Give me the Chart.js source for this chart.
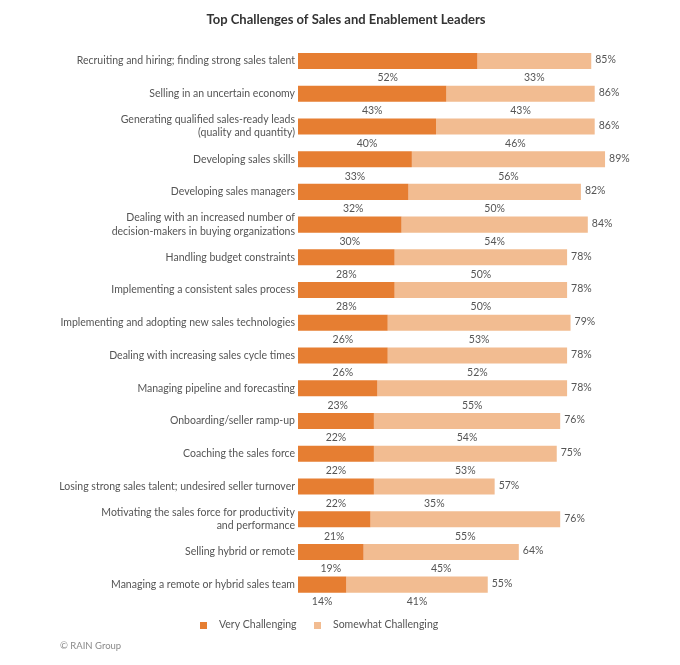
<!DOCTYPE html>
<html>
<head>
<meta charset="utf-8">
<title>Top Challenges of Sales and Enablement Leaders</title>
<script src="https://cdn.jsdelivr.net/npm/chart.js@4.4.1/dist/chart.umd.min.js"></script>
<style>
    html, body { margin: 0; padding: 0; background: #fff; }
    #wrap { width: 680px; height: 665px; position: relative; }
</style>
</head>
<body>
<div id="wrap"><canvas id="barChart"></canvas></div>
<script>
var categories = [
    'Recruiting and hiring; finding strong sales talent',
    'Selling in an uncertain economy',
    ['Generating qualified sales-ready leads', '(quality and quantity)'],
    'Developing sales skills',
    'Developing sales managers',
    ['Dealing with an increased number of', 'decision-makers in buying organizations'],
    'Handling budget constraints',
    'Implementing a consistent sales process',
    'Implementing and adopting new sales technologies',
    'Dealing with increasing sales cycle times',
    'Managing pipeline and forecasting',
    'Onboarding/seller ramp-up',
    'Coaching the sales force',
    'Losing strong sales talent; undesired seller turnover',
    ['Motivating the sales force for productivity', 'and performance'],
    'Selling hybrid or remote',
    'Managing a remote or hybrid sales team'
];
var veryChallenging     = [52, 43, 40, 33, 32, 30, 28, 28, 26, 26, 23, 22, 22, 22, 21, 19, 14];
var somewhatChallenging = [33, 43, 46, 56, 50, 54, 50, 50, 53, 52, 55, 54, 53, 35, 55, 45, 41];
var totals              = [85, 86, 86, 89, 82, 84, 78, 78, 79, 78, 78, 76, 75, 57, 76, 64, 55];

var FONT = 'Lato, "Open Sans", sans-serif';
var DARK = '#e67e32';
var LIGHT = '#f2bc91';

// percentages under each segment + total at the end of each bar
var valueLabels = {
    id: 'valueLabels',
    afterDatasetsDraw: function (chart) {
        var ctx = chart.ctx;
        ctx.save();
        ctx.font = '10.5px ' + FONT;
        ctx.fillStyle = '#555';
        ctx.textBaseline = 'middle';
        ctx.textAlign = 'center';
        chart.data.datasets.forEach(function (ds, i) {
            chart.getDatasetMeta(i).data.forEach(function (bar, j) {
                var p = bar.getProps(['x', 'y', 'base', 'height'], true);
                ctx.fillText(ds.data[j] + '%', (p.x + p.base) / 2, p.y + p.height / 2 + 9);
            });
        });
        ctx.textAlign = 'left';
        chart.getDatasetMeta(1).data.forEach(function (bar, j) {
            var p = bar.getProps(['x', 'y'], true);
            ctx.fillText(totals[j] + '%', p.x + 4, p.y - 1);
        });
        ctx.restore();
    }
};

// legend + source line at the bottom
var footer = {
    id: 'footer',
    afterDraw: function (chart) {
        var ctx = chart.ctx;
        var y = 625;
        ctx.save();
        ctx.font = '10.5px ' + FONT;
        ctx.textBaseline = 'middle';
        ctx.textAlign = 'left';
        var items = [[200, DARK, chart.data.datasets[0].label], [314, LIGHT, chart.data.datasets[1].label]];
        items.forEach(function (it) {
            ctx.fillStyle = it[1];
            ctx.fillRect(it[0], y - 3, 7, 7);
            ctx.fillStyle = '#555';
            ctx.fillText(it[2], it[0] + 19, y);
        });
        ctx.font = '9.5px ' + FONT;
        ctx.fillStyle = '#8a8a8a';
        ctx.fillText('\u00A9 RAIN Group', 60, 646);
        ctx.restore();
    }
};

var ctx = document.getElementById('barChart').getContext('2d');
var myBarChart = new Chart(ctx, {
    type: 'bar',
    data: {
        labels: categories,
        datasets: [{
            label: 'Very Challenging',
            data: veryChallenging,
            backgroundColor: DARK
        }, {
            label: 'Somewhat Challenging',
            data: somewhatChallenging,
            backgroundColor: LIGHT
        }]
    },
    options: {
        indexAxis: 'y',
        responsive: true,
        maintainAspectRatio: false,
        animation: false,
        barPercentage: 0.49,
        categoryPercentage: 1.0,
        layout: {
            padding: { left: 49, right: 37, top: 0, bottom: 64 }
        },
        scales: {
            x: {
                stacked: true,
                min: 0,
                max: 100,
                display: false
            },
            y: {
                stacked: true,
                grid: { display: false, drawTicks: false },
                border: { display: false },
                ticks: {
                    color: '#555',
                    padding: 3,
                    font: { family: FONT, size: 10.5, lineHeight: 1.25 }
                },
                afterFit: function (scale) {
                    scale.width = 249; // plot starts at x = 298
                }
            }
        },
        plugins: {
            title: {
                display: true,
                text: 'Top Challenges of Sales and Enablement Leaders',
                color: '#333',
                font: { family: FONT, size: 13, weight: 'bold' },
                padding: { top: 12, bottom: 17 }
            },
            legend: { display: false },
            tooltip: { enabled: false }
        }
    },
    plugins: [valueLabels, footer]
});
</script>
</body>
</html>
